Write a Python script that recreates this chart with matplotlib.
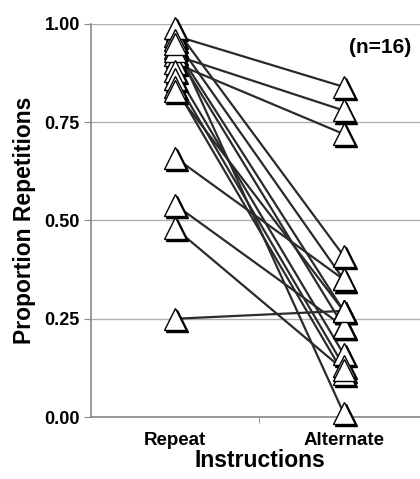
import matplotlib
matplotlib.use("Agg")
import matplotlib.pyplot as plt
from matplotlib.transforms import offset_copy

plt.rcParams['font.family'] = ['Liberation Sans', 'DejaVu Sans']

conditions = ["Repeat", "Alternate"]
repeat = [0.97, 0.92, 0.90, 0.99, 0.96, 0.94, 0.93, 0.88,
          0.86, 0.84, 0.95, 0.83, 0.66, 0.54, 0.48, 0.25]
alternate = [0.84, 0.78, 0.72, 0.41, 0.35, 0.27, 0.23, 0.16,
             0.13, 0.11, 0.01, 0.27, 0.35, 0.23, 0.12, 0.27]
yticks = [0.0, 0.25, 0.5, 0.75, 1.0]

fig = plt.figure(figsize=(4.2, 4.79), dpi=100)
ax = fig.add_axes([0.2167, 0.1294, 0.802, 0.8206])

xs = [0, 1]
for r, a in zip(repeat, alternate):
    ax.plot(xs, [r, a], color='#2b2b2b', lw=1.6, zorder=3)

# triangles with a black drop shadow, as in the original
allx = [0] * len(repeat) + [1] * len(alternate)
ally = repeat + alternate
shadow = offset_copy(ax.transData, fig=fig, x=1.5, y=-1.5, units='points')
ax.plot(allx, ally, ls='none', marker='^', ms=16, mfc='black', mec='black',
        transform=shadow, zorder=4, clip_on=False)
ax.plot(allx, ally, ls='none', marker='^', ms=16, mfc='white', mec='black',
        mew=1.0, zorder=5, clip_on=False)

ax.set_xlim(-0.5, 1.5)
ax.set_ylim(0, 1)
ax.set_xticks(xs)
ax.set_xticklabels(conditions, fontsize=13.5, fontweight='bold')
ax.set_xticks([0.5], minor=True)
ax.tick_params(axis='x', which='major', length=0, pad=11)
ax.tick_params(axis='x', which='minor', length=4, direction='out', color='#888888')
ax.set_yticks(yticks)
ax.set_yticklabels(["%.2f" % v for v in yticks], fontsize=13, fontweight='bold')
ax.tick_params(axis='y', length=5, color='#888888', pad=3)
ax.grid(axis='y', color='#b0b0b0', lw=1)
ax.set_axisbelow(True)

for s in ['top', 'right']:
    ax.spines[s].set_visible(False)
for s in ['left', 'bottom']:
    ax.spines[s].set_color('#888888')
    ax.spines[s].set_linewidth(1.2)

ax.set_ylabel("Proportion Repetitions", fontsize=16.5, fontweight='bold', labelpad=6)
ax.set_xlabel("Instructions", fontsize=16.5, fontweight='bold', labelpad=0)
ax.text(1.215, 0.94, "(n=16)", fontsize=15, fontweight='bold', ha='center', va='center')

fig.savefig("out.png", dpi=100)
